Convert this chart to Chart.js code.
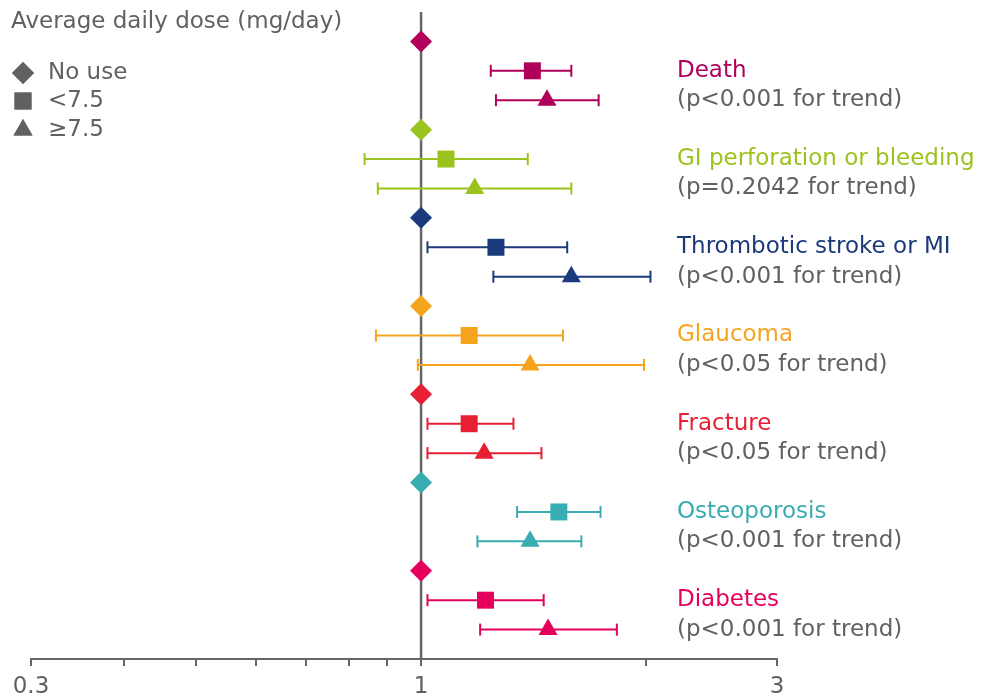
<!DOCTYPE html>
<html>
<head>
<meta charset="utf-8">
<script src="https://cdn.jsdelivr.net/npm/chart.js@4.4.1/dist/chart.umd.min.js"></script>
<style>
  html, body { margin: 0; padding: 0; background: #fff; }
  #wrap { width: 988px; height: 695px; position: relative; }
</style>
</head>
<body>
<div id="wrap"><canvas id="forest"></canvas></div>
<script>
// outcomes, top to bottom
const outcomes = ['Death', 'GI perforation or bleeding', 'Thrombotic stroke or MI', 'Glaucoma', 'Fracture', 'Osteoporosis', 'Diabetes'];
const trendText = ['(p<0.001 for trend)', '(p=0.2042 for trend)', '(p<0.001 for trend)', '(p<0.05 for trend)', '(p<0.05 for trend)', '(p<0.001 for trend)', '(p<0.001 for trend)'];
const colours = ['#b0005a', '#9bc31d', '#1b3a7b', '#f6a31e', '#e61f33', '#38adb1', '#e6005e'];

// hazard ratios vs no use (reference = 1)
const noUse = [1, 1, 1, 1, 1, 1, 1];
const lowDose = [1.41, 1.08, 1.26, 1.16, 1.16, 1.53, 1.22];
const lowDoseLo = [1.24, 0.84, 1.02, 0.87, 1.02, 1.345, 1.02];
const lowDoseHi = [1.59, 1.39, 1.57, 1.55, 1.33, 1.74, 1.46];
const highDose = [1.475, 1.18, 1.59, 1.40, 1.215, 1.40, 1.48];
const highDoseLo = [1.26, 0.875, 1.25, 0.99, 1.02, 1.19, 1.20];
const highDoseHi = [1.73, 1.59, 2.03, 1.99, 1.45, 1.64, 1.83];

const xTicks = [0.3, 0.4, 0.5, 0.6, 0.7, 0.8, 0.9, 1, 2, 3];
const xLabels = [0.3, 1, 3];

const legendTitle = 'Average daily dose (mg/day)';
const legendItems = ['No use', '<7.5', '≥7.5'];
const legendStyles = ['rectRot', 'rect', 'triangle'];

const FONT = '"DejaVu Sans", sans-serif';
const GREY = '#606163';

const datasets = [];

// reference line at 1
datasets.push({
    type: 'line',
    data: [{x: 1, y: -1}, {x: 1, y: 21}],
    borderColor: '#666666',
    borderWidth: 2.5,
    pointRadius: 0,
    order: 10
});

outcomes.forEach(function(name, i) {
    const base = i * 3;
    // confidence intervals
    [[lowDoseLo, lowDoseHi, base + 1], [highDoseLo, highDoseHi, base + 2]].forEach(function(ci) {
        datasets.push({
            type: 'line',
            data: [{x: ci[0][i], y: ci[2]}, {x: ci[1][i], y: ci[2]}],
            borderColor: colours[i],
            backgroundColor: colours[i],
            borderWidth: 2,
            pointStyle: 'line',
            rotation: 90,
            pointRadius: 6,
            pointBorderWidth: 2,
            pointBorderColor: colours[i],
            order: 5
        });
    });
    // point estimates
    datasets.push({
        type: 'scatter',
        data: [{x: noUse[i], y: base}, {x: lowDose[i], y: base + 1}, {x: highDose[i], y: base + 2}],
        backgroundColor: colours[i],
        borderColor: colours[i],
        borderWidth: 0,
        pointStyle: legendStyles,
        pointRadius: [11, 12, 11],
        order: 1
    });
});

const textPlugin = {
    id: 'forestText',
    afterDraw: function(chart) {
        const ctx = chart.ctx;
        const y = chart.scales.y;
        ctx.save();
        ctx.textBaseline = 'middle';
        ctx.textAlign = 'left';
        ctx.font = '23px ' + FONT;
        outcomes.forEach(function(name, i) {
            ctx.fillStyle = colours[i];
            ctx.fillText(name, 677, y.getPixelForValue(i * 3 + 1));
            ctx.fillStyle = GREY;
            ctx.fillText(trendText[i], 677, y.getPixelForValue(i * 3 + 2));
        });

        // dose legend
        ctx.fillStyle = GREY;
        ctx.fillText(legendTitle, 11, 22);
        const ly = [73, 101, 130];
        const lr = [11, 12, 11];
        legendItems.forEach(function(item, k) {
            ctx.fillStyle = GREY;
            Chart.helpers.drawPoint(ctx, {pointStyle: legendStyles[k], radius: lr[k], rotation: 0, borderWidth: 0}, 23, ly[k]);
            ctx.fill();
            ctx.fillText(item, 48, ly[k]);
        });
        ctx.restore();
    }
};

new Chart(document.getElementById('forest'), {
    type: 'scatter',
    data: { datasets: datasets },
    options: {
        responsive: true,
        maintainAspectRatio: false,
        animation: false,
        layout: { padding: { left: 31, right: 211, top: 9, bottom: 0 } },
        plugins: {
            legend: { display: false },
            tooltip: { enabled: false }
        },
        scales: {
            x: {
                type: 'logarithmic',
                min: 0.3,
                max: 3,
                afterBuildTicks: function(scale) {
                    scale.ticks = xTicks.map(function(v) { return {value: v}; });
                },
                afterFit: function(scale) {
                    scale.height = 36;
                },
                ticks: {
                    autoSkip: false,
                    maxRotation: 0,
                    padding: 10,
                    color: GREY,
                    font: { family: FONT, size: 23, lineHeight: 1 },
                    callback: function(v) {
                        return xLabels.indexOf(v) >= 0 ? String(v) : '';
                    }
                },
                grid: {
                    drawOnChartArea: false,
                    drawTicks: true,
                    tickLength: 7,
                    color: '#666666',
                    lineWidth: 2
                },
                border: { display: true, color: '#666666', width: 2 }
            },
            y: {
                type: 'linear',
                display: false,
                reverse: true,
                min: -1,
                max: 21
            }
        }
    },
    plugins: [textPlugin]
});
</script>
</body>
</html>
